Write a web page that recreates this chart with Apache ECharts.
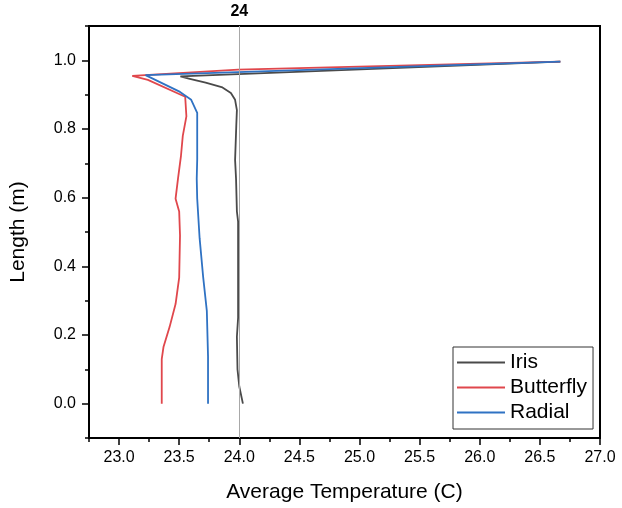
<!DOCTYPE html>
<html>
<head>
<meta charset="utf-8">
<script src="https://cdn.jsdelivr.net/npm/echarts@6/dist/echarts.min.js"></script>
<style>
  html, body { margin: 0; padding: 0; background: #fff; }
  #chart { width: 622px; height: 508px; }
</style>
</head>
<body>
<div id="chart"></div>
<script>
// [temperature, length] pairs
const iris = [
  [24.03, 0.0], [24.0, 0.05], [23.985, 0.10], [23.98, 0.195], [23.99, 0.25],
  [23.99, 0.40], [23.99, 0.53], [23.98, 0.56], [23.973, 0.655], [23.965, 0.71],
  [23.975, 0.81], [23.98, 0.855], [23.965, 0.885], [23.93, 0.905], [23.86, 0.921],
  [23.72, 0.935], [23.58, 0.947], [23.51, 0.953], [26.67, 0.996]
];
const butterfly = [
  [23.355, 0.0], [23.355, 0.13], [23.37, 0.166], [23.42, 0.223], [23.47, 0.29],
  [23.50, 0.367], [23.507, 0.49], [23.50, 0.56], [23.47, 0.597], [23.49, 0.655],
  [23.515, 0.722], [23.53, 0.78], [23.56, 0.837], [23.55, 0.894], [23.24, 0.943],
  [23.11, 0.955], [23.99, 0.973], [26.67, 0.996]
];
const radial = [
  [23.74, 0.0], [23.74, 0.137], [23.73, 0.27], [23.70, 0.367], [23.67, 0.482],
  [23.65, 0.597], [23.646, 0.655], [23.65, 0.712], [23.65, 0.847], [23.60, 0.885],
  [23.507, 0.908], [23.22, 0.957], [26.67, 0.996]
];

const xMajor = [23.0, 23.5, 24.0, 24.5, 25.0, 25.5, 26.0, 26.5, 27.0];
const xMinor = [22.75, 23.25, 23.75, 24.25, 24.75, 25.25, 25.75, 26.25, 26.75];
const yMajor = [0.0, 0.2, 0.4, 0.6, 0.8, 1.0];
const yMinor = [-0.1, 0.1, 0.3, 0.5, 0.7, 0.9, 1.1];
const refTemp = 24;

const font = 'Arial, "Liberation Sans", sans-serif';
const black = '#000';

const chart = echarts.init(document.getElementById('chart'), null, { renderer: 'canvas' });

const line = (name, data, color) => ({
  name: name,
  type: 'line',
  data: data,
  showSymbol: false,
  symbol: 'none',
  lineStyle: { width: 1.8, color: color },
  itemStyle: { color: color },
  emphasis: { disabled: true }
});

const option = {
  animation: false,
  textStyle: { fontFamily: font },
  grid: {
    left: 88, right: 22, top: 26, bottom: 66,
    show: true, borderColor: black, borderWidth: 2
  },
  legend: {
    orient: 'vertical',
    left: 453, top: 347,
    padding: [5, 6, 6, 4],
    borderColor: '#333', borderWidth: 1,
    icon: 'rect',
    itemWidth: 48, itemHeight: 2, itemGap: 4,
    textStyle: { fontSize: 21, color: black, fontFamily: font, lineHeight: 21 },
    data: ['Iris', 'Butterfly', 'Radial']
  },
  xAxis: [
    {
      type: 'value', min: 22.75, max: 27, position: 'bottom',
      axisLine: { onZero: false, lineStyle: { color: black, width: 2 } },
      axisTick: { customValues: xMajor, length: 7, lineStyle: { color: black, width: 1.5 } },
      axisLabel: {
        customValues: xMajor, margin: 12, fontSize: 16, color: black,
        formatter: v => v.toFixed(1)
      },
      splitLine: { show: false },
      name: 'Average Temperature (C)', nameLocation: 'middle', nameGap: 44,
      nameTextStyle: { fontSize: 21, color: black }
    },
    {
      type: 'value', min: 22.75, max: 27, position: 'bottom',
      axisLine: { show: false, onZero: false },
      axisTick: { customValues: xMinor, length: 4, lineStyle: { color: black, width: 1.5 } },
      axisLabel: { show: false },
      splitLine: { show: false }
    }
  ],
  yAxis: [
    {
      type: 'value', min: -0.1, max: 1.1, position: 'left',
      axisLine: { show: true, onZero: false, lineStyle: { color: black, width: 2 } },
      axisTick: { show: true, customValues: yMajor, length: 7, lineStyle: { color: black, width: 1.5 } },
      axisLabel: {
        customValues: yMajor, margin: 13, fontSize: 16, color: black,
        formatter: v => v.toFixed(1)
      },
      splitLine: { show: false },
      name: 'Length (m)', nameLocation: 'middle', nameGap: 60,
      nameTextStyle: { fontSize: 21, color: black }
    },
    {
      type: 'value', min: -0.1, max: 1.1, position: 'left',
      axisLine: { show: false, onZero: false },
      axisTick: { show: true, customValues: yMinor, length: 4, lineStyle: { color: black, width: 1.5 } },
      axisLabel: { show: false },
      splitLine: { show: false }
    }
  ],
  series: [
    Object.assign(line('Iris', iris, '#4a4a4a'), {
      markLine: {
        silent: true,
        symbol: 'none',
        lineStyle: { color: '#a8a8a8', width: 1, type: 'solid' },
        label: {
          position: 'end', formatter: String(refTemp), distance: 6,
          fontSize: 16, fontWeight: 'bold', color: black, fontFamily: font
        },
        data: [{ xAxis: refTemp }]
      }
    }),
    line('Butterfly', butterfly, '#e0474c'),
    line('Radial', radial, '#2f72c3')
  ]
};

chart.setOption(option);
</script>
</body>
</html>
